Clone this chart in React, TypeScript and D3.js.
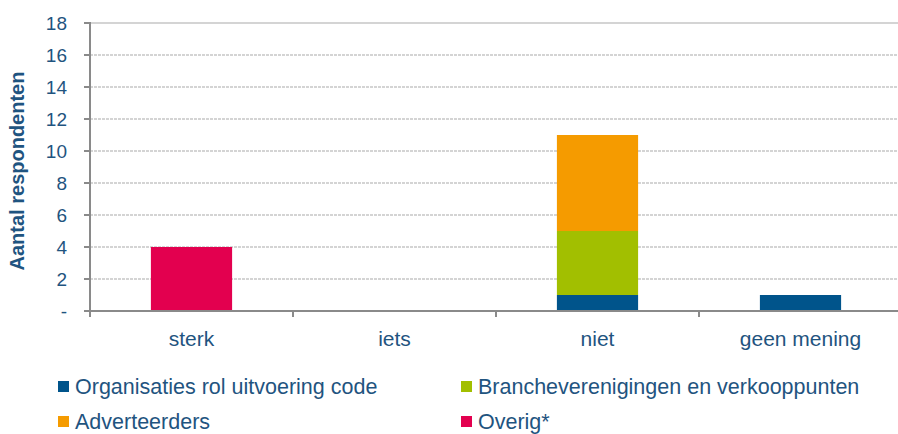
import React from "react";
import * as d3 from "d3";

const categories = ["sterk", "iets", "niet", "geen mening"];
const seriesNames = [
  "Organisaties rol uitvoering code",
  "Brancheverenigingen en verkooppunten",
  "Adverteerders",
  "Overig*",
];
const seriesColors = ["#00548b", "#a2bf00", "#f59b00", "#e3004f"];
const organisaties = [0, 0, 1, 1];
const branche = [0, 0, 4, 0];
const adverteerders = [0, 0, 6, 0];
const overig = [4, 0, 0, 0];
const yTicks = [0, 2, 4, 6, 8, 10, 12, 14, 16, 18];

const W = 898;
const H = 434;
const left = 90;
const right = 902;
const top = 23;
const bottom = 311;
const textColor = "#1f5480";
const font = "'Liberation Sans', Arial, sans-serif";

export default function App() {
  const x = d3
    .scaleBand<string>()
    .domain(categories)
    .range([left, right])
    .paddingInner(0.6)
    .paddingOuter(0.3);
  const step = x.step();
  const y = d3.scaleLinear().domain([0, 18]).range([bottom, top]);

  const rows = categories.map((c, i) => ({
    cat: c,
    s0: organisaties[i],
    s1: branche[i],
    s2: adverteerders[i],
    s3: overig[i],
  }));
  const stack = d3.stack<any>().keys(["s0", "s1", "s2", "s3"])(rows);

  // legend spots, two per row
  const legend = [
    { x: 58, y: 386 },
    { x: 461, y: 386 },
    { x: 58, y: 421 },
    { x: 461, y: 421 },
  ];

  return (
    <svg
      width={W}
      height={H}
      style={{ position: "absolute", left: 0, top: 0, background: "#fff" }}
      fontFamily={font}
    >
      {yTicks.slice(1).map((t) => (
        <line
          key={t}
          x1={left}
          x2={W}
          y1={y(t)}
          y2={y(t)}
          stroke="#d4d4d4"
          strokeWidth={2}
          strokeDasharray={t === 18 ? undefined : "3 1"}
        />
      ))}
      {stack.map((layer, si) =>
        layer.map((d, ci) =>
          d[1] - d[0] > 0 ? (
            <rect
              key={si + "-" + ci}
              x={x(categories[ci])}
              width={x.bandwidth()}
              y={y(d[1])}
              height={y(d[0]) - y(d[1])}
              fill={seriesColors[si]}
            />
          ) : null
        )
      )}
      <line x1={left} x2={left} y1={top - 1} y2={bottom + 1} stroke="#8a8a8a" strokeWidth={2} />
      <line x1={left} x2={W} y1={bottom} y2={bottom} stroke="#8a8a8a" strokeWidth={2} />
      {yTicks.map((t) => (
        <g key={t}>
          <line x1={left - 6} x2={left} y1={y(t)} y2={y(t)} stroke="#8a8a8a" strokeWidth={2} />
          <text
            x={67}
            y={y(t)}
            dy="0.36em"
            textAnchor="end"
            fontSize={19}
            fill={textColor}
          >
            {t === 0 ? "-" : t}
          </text>
        </g>
      ))}
      {categories.map((c, i) => (
        <g key={c}>
          <line
            x1={left + i * step}
            x2={left + i * step}
            y1={bottom}
            y2={bottom + 6}
            stroke="#8a8a8a"
            strokeWidth={2}
          />
          <text
            x={(x(c) as number) + x.bandwidth() / 2}
            y={346}
            textAnchor="middle"
            fontSize={21}
            fill={textColor}
          >
            {c}
          </text>
        </g>
      ))}
      <text
        transform={`translate(24,171) rotate(-90)`}
        textAnchor="middle"
        fontSize={20}
        fontWeight="bold"
        fill={textColor}
      >
        Aantal respondenten
      </text>
      {seriesNames.map((n, i) => (
        <g key={n}>
          <rect x={legend[i].x} y={legend[i].y - 5} width={11} height={11} fill={seriesColors[i]} />
          <text
            x={legend[i].x + 17}
            y={legend[i].y}
            dy="0.36em"
            fontSize={21.5}
            fill={textColor}
          >
            {n}
          </text>
        </g>
      ))}
    </svg>
  );
}
